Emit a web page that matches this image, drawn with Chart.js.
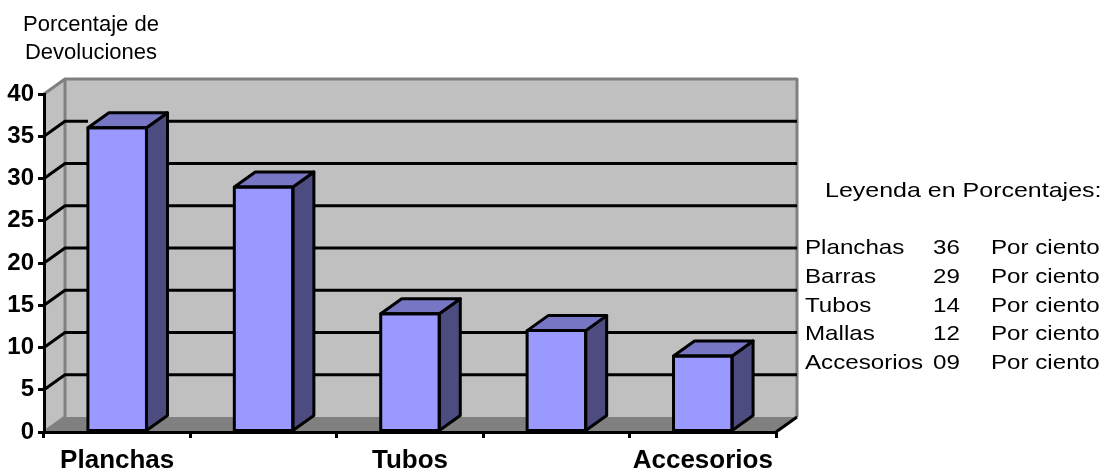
<!DOCTYPE html>
<html>
<head>
<meta charset="utf-8">
<title>Porcentaje de Devoluciones</title>
<script src="https://cdn.jsdelivr.net/npm/chart.js@4.4.1/dist/chart.umd.min.js"></script>
<style>
  html, body { margin: 0; padding: 0; background: #fff; }
  #wrap { position: relative; width: 1117px; height: 471px; overflow: hidden;
          font-family: Arial, "Liberation Sans", sans-serif; color: #000; }
  #chart { position: absolute; left: 0; top: 0; }
  .txt { position: absolute; white-space: pre; line-height: 1; transform-origin: left top; }
  .title { font-size: 22px; text-align: center; width: 190px; left: -4px; }
  .leg { font-size: 21px; transform: scaleX(1.15); }
  .leg.head { transform: scaleX(1.19); }
</style>
</head>
<body>
<div id="wrap">
  <canvas id="chart" width="1117" height="471"></canvas>
  <div class="txt title" style="top:13px">Porcentaje de</div>
  <div class="txt title" style="top:41px">Devoluciones</div>
  <div id="legend"></div>
</div>
<script>
const categories = ['Planchas', 'Barras', 'Tubos', 'Mallas', 'Accesorios'];
const devoluciones = [36, 29, 14, 12, 9];
const yMin = 0, yMax = 40, yStep = 5;
const legendTitle = 'Leyenda en Porcentajes:';
const unitText = 'Por ciento';

// depth of the 3d box (walls and columns)
const DX = 21, DY = -15;

function poly(ctx, pts, fill, stroke, lw) {
    ctx.beginPath();
    ctx.moveTo(pts[0][0], pts[0][1]);
    for (let i = 1; i < pts.length; i++) ctx.lineTo(pts[i][0], pts[i][1]);
    ctx.closePath();
    if (fill) { ctx.fillStyle = fill; ctx.fill(); }
    if (stroke) { ctx.strokeStyle = stroke; ctx.lineWidth = lw || 3; ctx.stroke(); }
}

const box3d = {
    id: 'box3d',
    beforeDraw(chart) {
        const { ctx, chartArea: a, scales: { y } } = chart;
        ctx.save();
        ctx.lineJoin = 'round';
        // back wall, left wall and floor
        poly(ctx, [[a.left + DX, a.top + DY], [a.right + DX, a.top + DY], [a.right + DX, a.bottom + DY], [a.left + DX, a.bottom + DY]], '#c0c0c0');
        poly(ctx, [[a.left, a.top], [a.left + DX, a.top + DY], [a.left + DX, a.bottom + DY], [a.left, a.bottom]], '#c0c0c0');
        poly(ctx, [[a.left, a.bottom], [a.right, a.bottom], [a.right + DX, a.bottom + DY], [a.left + DX, a.bottom + DY]], '#808080');

        // wall edges
        ctx.strokeStyle = '#808080';
        ctx.lineWidth = 3;
        ctx.beginPath();
        ctx.moveTo(a.left, a.top);
        ctx.lineTo(a.left + DX, a.top + DY);
        ctx.lineTo(a.right + DX, a.top + DY);
        ctx.lineTo(a.right + DX, a.bottom + DY);
        ctx.moveTo(a.left + DX, a.top + DY);
        ctx.lineTo(a.left + DX, a.bottom + DY);
        ctx.lineTo(a.left, a.bottom);
        ctx.stroke();

        // gridlines: across the side wall, then along the back wall
        ctx.strokeStyle = '#000';
        ctx.lineWidth = 3;
        y.ticks.forEach(t => {
            if (t.value <= yMin || t.value >= yMax) return;
            const py = y.getPixelForValue(t.value);
            ctx.beginPath();
            ctx.moveTo(a.left, py);
            ctx.lineTo(a.left + DX, py + DY);
            ctx.lineTo(a.right + DX, py + DY);
            ctx.stroke();
        });
        ctx.restore();
    },
    afterDatasetsDraw(chart) {
        const { ctx, chartArea: a } = chart;
        ctx.save();
        ctx.lineJoin = 'round';
        chart.getDatasetMeta(0).data.forEach(bar => {
            const { x, y, base, width } = bar.getProps(['x', 'y', 'base', 'width'], true);
            const xl = x - width / 2, xr = x + width / 2;
            // wall behind the column top stays hidden
            poly(ctx, [[xl, y], [xl + DX, y + DY], [xl, y + DY]], '#c0c0c0');
            poly(ctx, [[xr, y], [xr + DX, y + DY], [xr + DX, base + DY], [xr, base]], '#4c4c80', '#000', 3);
            poly(ctx, [[xl, y], [xr, y], [xr + DX, y + DY], [xl + DX, y + DY]], '#7676c4', '#000', 3);
            poly(ctx, [[xl, y], [xr, y], [xr, base], [xl, base]], null, '#000', 3);
        });
        // right edge of the floor
        ctx.strokeStyle = '#000';
        ctx.lineWidth = 3;
        ctx.beginPath();
        ctx.moveTo(a.right, a.bottom);
        ctx.lineTo(a.right + DX, a.bottom + DY);
        ctx.stroke();
        ctx.restore();
    }
};

new Chart(document.getElementById('chart'), {
    type: 'bar',
    data: {
        labels: categories,
        datasets: [{
            data: devoluciones,
            backgroundColor: '#9999ff',
            borderColor: '#000',
            borderWidth: 0,
            categoryPercentage: 1,
            barPercentage: 0.4
        }]
    },
    options: {
        responsive: false,
        animation: false,
        devicePixelRatio: 1,
        layout: { padding: { left: 0, top: 94, right: 341, bottom: 0 } },
        plugins: { legend: { display: false }, tooltip: { enabled: false } },
        scales: {
            x: {
                grid: { drawOnChartArea: false, tickLength: 6, color: '#000', lineWidth: 3 },
                border: { display: true, color: '#000', width: 3 },
                ticks: {
                    color: '#000',
                    padding: 7,
                    autoSkip: false,
                    maxRotation: 0,
                    font: { family: 'Arial, "Liberation Sans", sans-serif', size: 26, weight: 'bold' },
                    callback: (v, i) => (i % 2 === 0 ? categories[i] : '')
                },
                afterFit: s => { s.height = 39; }
            },
            y: {
                min: yMin,
                max: yMax,
                grid: { drawOnChartArea: false, tickLength: 6, color: '#000', lineWidth: 3 },
                border: { display: true, color: '#000', width: 3 },
                ticks: {
                    stepSize: yStep,
                    color: '#000',
                    padding: 4,
                    font: { family: 'Arial, "Liberation Sans", sans-serif', size: 24, weight: 'bold' }
                },
                afterFit: s => { s.width = 44; }
            }
        }
    },
    plugins: [box3d]
});

// legend block at the right: heading, one blank line, then one row per category
const legend = document.getElementById('legend');
const rowStep = 28.6;
function addText(str, left, baseline, cls) {
    const d = document.createElement('div');
    d.className = 'txt ' + cls;
    d.textContent = str;
    d.style.left = left + 'px';
    d.style.top = (baseline - 17.8) + 'px';
    legend.appendChild(d);
}
addText(legendTitle, 825, 197, 'leg head');
categories.forEach((c, i) => {
    const base = 197 + (i + 2) * rowStep;
    addText(c, 805, base, 'leg');
    addText(String(devoluciones[i]).padStart(2, '0'), 933, base, 'leg');
    addText(unitText, 991, base, 'leg');
});
</script>
</body>
</html>
